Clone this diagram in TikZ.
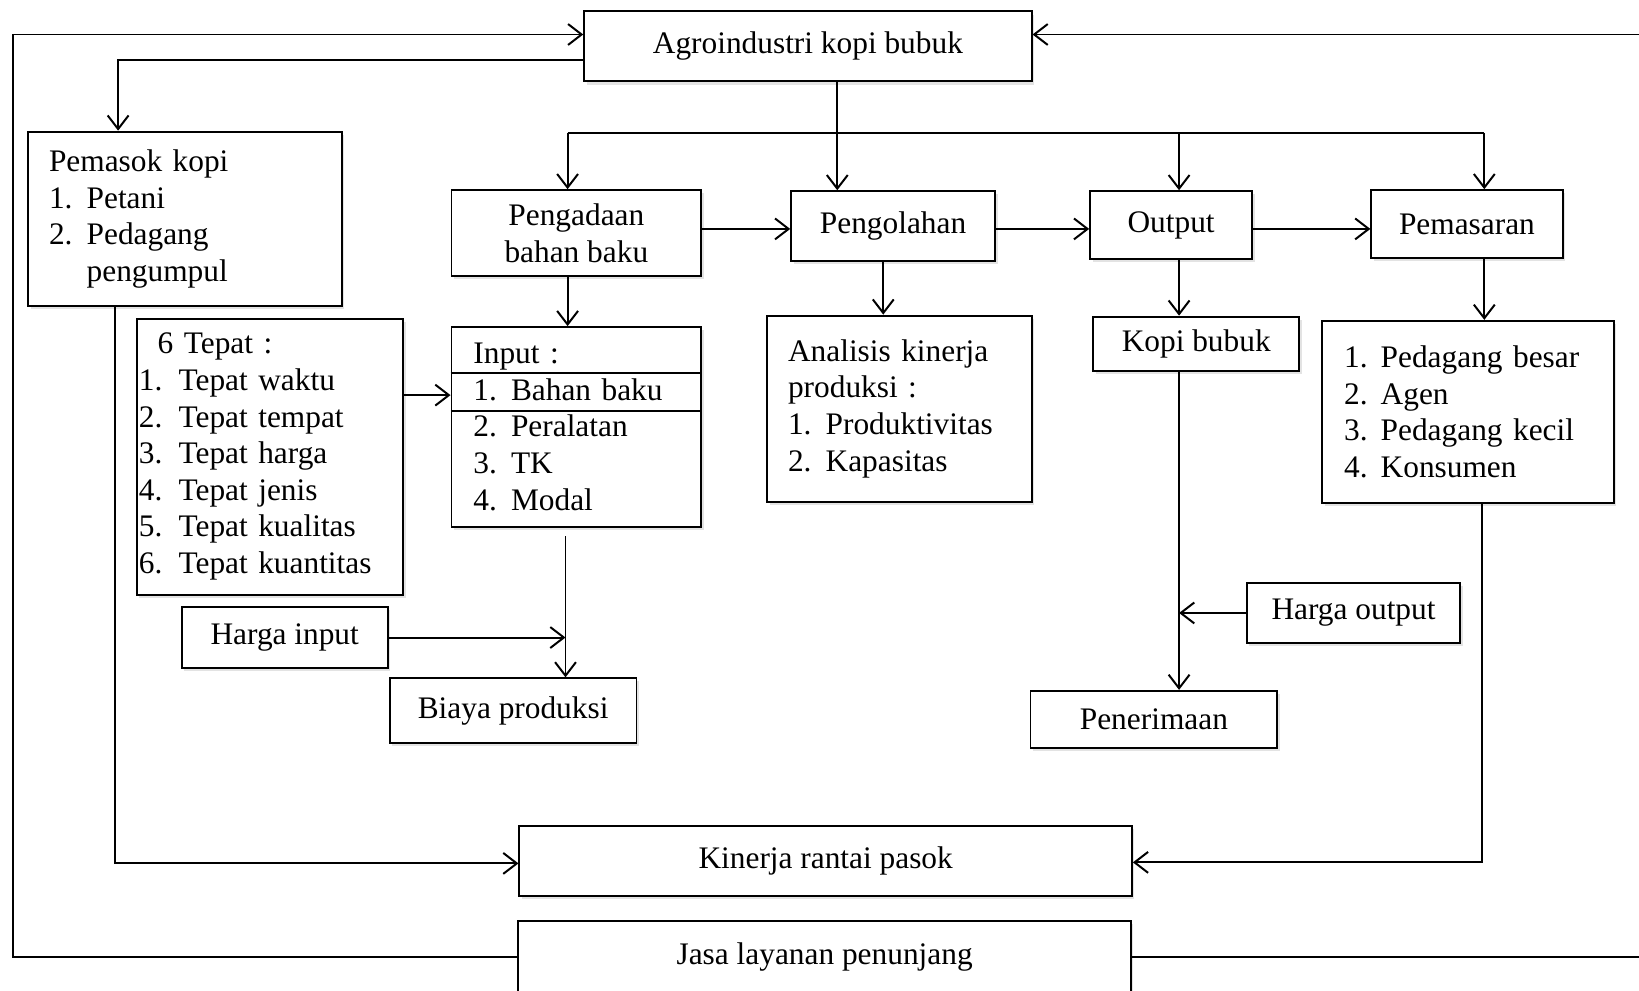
\documentclass[tikz,border=0pt]{standalone}
\usepackage{fontspec}
\setmainfont{Liberation Serif}
\usetikzlibrary{arrows.meta,shadows,calc}
\begin{document}
\begin{tikzpicture}[x=0.5pt,y=-0.5pt,
  box/.style={draw, line width=0.9pt, fill=white, rectangle, anchor=north west,
    inner sep=0pt, font=\fontsize{15pt}{17.5pt}\selectfont,
    drop shadow={shadow xshift=1.2pt, shadow yshift=-1.5pt, opacity=0.22}},
  cbox/.style={box, align=center},
  lbox/.style={box, align=left},
  arr/.style={-{Straight Barb[length=6.5pt,width=10pt]}, line width=0.95pt},
  ln/.style={line width=0.95pt}]
\useasboundingbox (0,0) rectangle (1568,948);

% boxes
\node[cbox, minimum width=214pt, minimum height=33.5pt] (agro) at (558,10) {Agroindustri kopi bubuk};
\node[lbox, text width=130pt, inner xsep=10pt, minimum height=83.5pt] (pemasok) at (26,125)
  {Pemasok kopi\\\makebox[18pt][l]{1.}Petani\\\makebox[18pt][l]{2.}Pedagang\\\hspace*{18pt}pengumpul};
\node[cbox, minimum width=119.5pt, minimum height=41pt] (pengadaan) at (431,181) {Pengadaan\\bahan baku};
\node[cbox, minimum width=97.5pt, minimum height=33.5pt] (pengolahan) at (756,182) {Pengolahan};
\node[cbox, minimum width=77.5pt, minimum height=32.5pt] (output) at (1042,182) {Output};
\node[cbox, minimum width=91.5pt, minimum height=32.5pt] (pemasaran) at (1311,181) {Pemasaran};
\node[lbox, text width=125.5pt, inner xsep=1pt, minimum height=132pt] (tepat) at (130,304)
  {\hspace*{9pt}6 Tepat :\\
   \makebox[19pt][l]{1.}Tepat waktu\\
   \makebox[19pt][l]{2.}Tepat tempat\\
   \makebox[19pt][l]{3.}Tepat harga\\
   \makebox[19pt][l]{4.}Tepat jenis\\
   \makebox[19pt][l]{5.}Tepat kualitas\\
   \makebox[19pt][l]{6.}Tepat kuantitas};
\node[lbox, text width=98.5pt, inner xsep=10.5pt, minimum height=95.5pt] (input) at (431,312)
  {Input :\\
   \makebox[18pt][l]{1.}Bahan baku\\
   \makebox[18pt][l]{2.}Peralatan\\
   \makebox[18pt][l]{3.}TK\\
   \makebox[18pt][l]{4.}Modal};
\node[cbox, minimum width=98.5pt, minimum height=29pt] (hin) at (173,580) {Harga input};
\node[cbox, minimum width=118pt, minimum height=31pt] (biaya) at (372,648) {Biaya produksi};
\node[lbox, text width=106.5pt, inner xsep=10pt, minimum height=89pt] (analisis) at (733,301)
  {Analisis kinerja\\produksi :\\
   \makebox[18pt][l]{1.}Produktivitas\\
   \makebox[18pt][l]{2.}Kapasitas};
\node[cbox, minimum width=98.5pt, minimum height=26pt] (kopi) at (1045,302) {Kopi bubuk};
\node[cbox, minimum width=102pt, minimum height=28.5pt] (hout) at (1192,557) {Harga output};
\node[cbox, minimum width=118pt, minimum height=27.5pt] (terima) at (985,660) {Penerimaan};
\node[lbox, text width=118.5pt, inner xsep=10.5pt, minimum height=87pt] (pedagang) at (1264,306)
  {\makebox[17.5pt][l]{1.}Pedagang besar\\
   \makebox[17.5pt][l]{2.}Agen\\
   \makebox[17.5pt][l]{3.}Pedagang kecil\\
   \makebox[17.5pt][l]{4.}Konsumen};
\node[cbox, minimum width=293pt, minimum height=33.5pt] (kinerja) at (496,789) {Kinerja rantai pasok};
\node[cbox, minimum width=293pt, minimum height=35pt] (jasa) at (495,880) {Jasa layanan penunjang};

% rules inside input box
\draw[ln] (input.west |- 0,357) -- (input.east |- 0,357);
\draw[ln] (input.west |- 0,393) -- (input.east |- 0,393);

% outer loops
\coordinate (lc) at (12,33);
\coordinate (rc) at (1580,33);
\draw[arr] (jasa.west) -| (lc) -- (agro.west |- lc);
\draw[arr] (jasa.east) -- (jasa.east -| rc) -- (rc) -- (agro.east |- rc);

% agro -> pemasok
\coordinate (p1) at (113,57);
\draw[arr] (agro.west |- p1) -- (p1) -- (p1 |- pemasok.north);

% pemasok -> kinerja
\coordinate (k1) at (110,826);
\draw[arr] (pemasok.south -| k1) -- (k1) -- (kinerja.west |- k1);

% agro -> pengolahan and bus
\coordinate (b1) at (801,127);
\draw[arr] (agro.south -| b1) -- (pengolahan.north -| b1);
\coordinate (bl) at (543,127);
\coordinate (bm) at (1128,127);
\coordinate (br) at (1420,127);
\draw[ln] (bl) -- (br);
\draw[arr] (bl) -- (bl |- pengadaan.north);
\draw[arr] (bm) -- (bm |- output.north);
\draw[arr] (br) -- (br |- pemasaran.north);

% horizontal chain
\coordinate (hy) at (0,219);
\draw[arr] (pengadaan.east |- hy) -- (pengolahan.west |- hy);
\draw[arr] (pengolahan.east |- hy) -- (output.west |- hy);
\draw[arr] (output.east |- hy) -- (pemasaran.west |- hy);

% downward arrows
\coordinate (x1) at (543,0);
\draw[arr] (pengadaan.south -| x1) -- (input.north -| x1);
\coordinate (x2) at (845,0);
\draw[arr] (pengolahan.south -| x2) -- (analisis.north -| x2);
\coordinate (x3) at (1128,0);
\draw[arr] (output.south -| x3) -- (kopi.north -| x3);
\draw[arr] (kopi.south -| x3) -- (terima.north -| x3);
\coordinate (x4) at (1420,0);
\draw[arr] (pemasaran.south -| x4) -- (pedagang.north -| x4);

% tepat -> input
\coordinate (ty) at (0,378);
\draw[arr] (tepat.east |- ty) -- (input.west |- ty);

% input -> biaya, harga input
\coordinate (v1) at (541,513);
\draw[arr] (v1) -- (v1 |- biaya.north);
\draw[arr] (hin.east) -- (hin.east -| v1);

% harga output
\draw[arr] (hout.west) -- (hout.west -| x3);

% pedagang -> kinerja
\coordinate (k2) at (1418,825);
\draw[arr] (pedagang.south -| k2) -- (k2) -- (kinerja.east |- k2);
\end{tikzpicture}
\end{document}
